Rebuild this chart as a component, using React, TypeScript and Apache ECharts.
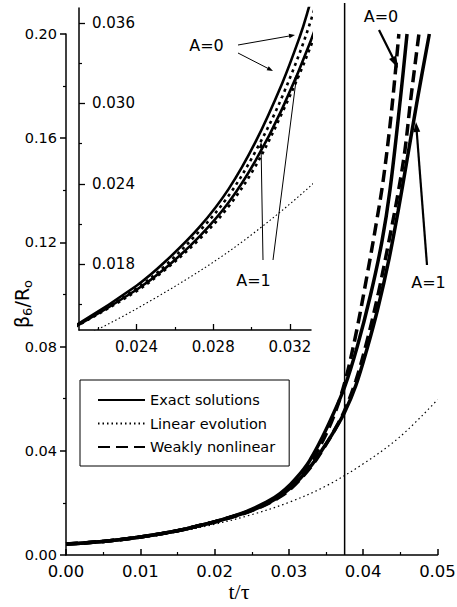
import React, { useEffect, useRef } from 'react';
import * as echarts from 'echarts';

// ---- data ----
const tExactA0 = [0, 0.005, 0.01, 0.015, 0.018, 0.021, 0.024, 0.0255, 0.0273, 0.0288, 0.0302, 0.0316, 0.0325, 0.0329, 0.034, 0.0355, 0.0375, 0.0392, 0.041, 0.0425, 0.0436, 0.045, 0.0459];
const betaExactA0 = [0.0042, 0.0052, 0.0069, 0.0093, 0.0113, 0.0136, 0.0164, 0.0182, 0.0208, 0.0236, 0.0271, 0.0315, 0.0349, 0.0367, 0.0424, 0.0512, 0.0645, 0.08, 0.1, 0.12, 0.14, 0.175, 0.2];

const tWeakA0 = [0, 0.005, 0.01, 0.015, 0.018, 0.021, 0.024, 0.0255, 0.0273, 0.0288, 0.0302, 0.0316, 0.0331, 0.0345, 0.036, 0.0375, 0.039, 0.0405, 0.0418, 0.0427, 0.0438, 0.0448];
const betaWeakA0 = [0.0042, 0.0052, 0.0069, 0.0093, 0.0113, 0.0135, 0.0162, 0.0179, 0.0205, 0.0231, 0.0264, 0.0305, 0.0362, 0.0435, 0.053, 0.066, 0.0845, 0.107, 0.128, 0.144, 0.17, 0.2];

const tExactA1 = [0, 0.005, 0.01, 0.015, 0.018, 0.021, 0.024, 0.0255, 0.0273, 0.0288, 0.0302, 0.0316, 0.0331, 0.0345, 0.036, 0.0375, 0.039, 0.0405, 0.042, 0.0435, 0.0447, 0.0458, 0.0473, 0.0489];
const betaExactA1 = [0.0042, 0.0052, 0.0069, 0.0093, 0.0113, 0.0135, 0.0161, 0.0177, 0.0201, 0.0226, 0.0257, 0.0296, 0.0347, 0.0405, 0.0472, 0.0548, 0.065, 0.079, 0.095, 0.114, 0.132, 0.15, 0.175, 0.2];

const tWeakA1 = [0, 0.005, 0.01, 0.015, 0.018, 0.021, 0.024, 0.0255, 0.0273, 0.0288, 0.0302, 0.0316, 0.0331, 0.0345, 0.036, 0.0375, 0.039, 0.0405, 0.042, 0.0435, 0.0447, 0.0456, 0.0464, 0.0475];
const betaWeakA1 = [0.0042, 0.0052, 0.0069, 0.0093, 0.0113, 0.0135, 0.016, 0.0176, 0.0199, 0.0223, 0.0253, 0.0293, 0.0343, 0.0402, 0.0472, 0.0555, 0.0668, 0.082, 0.1, 0.121, 0.139, 0.155, 0.175, 0.2];

const tLinear = [0, 0.005, 0.01, 0.015, 0.02, 0.025, 0.03, 0.035, 0.04, 0.045, 0.05];
const betaLinear = [0.0042, 0.0052, 0.0069, 0.009, 0.0118, 0.0155, 0.0202, 0.0265, 0.035, 0.0455, 0.0596];

const legendNames = ['Exact solutions', 'Linear evolution', 'Weakly nonlinear'];
const markerT = 0.0375;

const insetXMajor = [0.024, 0.028, 0.032];
const insetXMinor = [0.022, 0.026, 0.03];
const insetYMajor = [0.018, 0.024, 0.03, 0.036];
const insetYMinor = [0.015, 0.021, 0.027, 0.033];

const FONT = 'DejaVu Sans';

const zip = (t: number[], v: number[]) => t.map((x, i) => [x, v[i]]);

function arrow(x1: number, y1: number, x2: number, y2: number, w: number, hl: number, hw: number) {
  const dx = x2 - x1, dy = y2 - y1;
  const L = Math.sqrt(dx * dx + dy * dy);
  const ux = dx / L, uy = dy / L;
  const bx = x2 - ux * hl, by = y2 - uy * hl;
  const px = -uy, py = ux;
  return [
    { type: 'line', shape: { x1, y1, x2: x2 - ux * hl * 0.6, y2: y2 - uy * hl * 0.6 }, style: { stroke: '#000', lineWidth: w }, z: 100 },
    {
      type: 'polygon',
      shape: { points: [[x2, y2], [bx + px * hw, by + py * hw], [bx - px * hw, by - py * hw]] },
      style: { fill: '#000' },
      z: 100,
    },
  ];
}

export default function App() {
  const ref = useRef<HTMLDivElement>(null);
  useEffect(() => {
    if (!ref.current) return;
    const chart = echarts.init(ref.current, undefined, { renderer: 'svg' });

    const solidMain = { color: '#000', width: 3.5, type: 'solid' };
    const dashMain = { color: '#000', width: 3.5, type: [12, 6] };
    const dotMain = { color: '#000', width: 1.2, type: [1.5, 3] };
    const solidInset = { color: '#000', width: 2.6, type: 'solid' };
    const dashInset = { color: '#000', width: 2.6, type: [3, 4] };
    const dotInset = { color: '#000', width: 1.1, type: [1.5, 2.5] };

    const mk = (name: string, data: number[][], ls: any, idx: number) => ({
      type: 'line',
      name,
      data,
      xAxisIndex: idx,
      yAxisIndex: idx,
      showSymbol: false,
      symbol: 'none',
      smooth: 0.35,
      lineStyle: ls,
      itemStyle: { color: '#000' },
      silent: true,
      clip: true,
    });

    const axisLineStyle = { color: '#000', width: 1.5 };

    const option: any = {
      animation: false,
      backgroundColor: '#fff',
      grid: [
        { left: 66, right: 19.5, top: 34, bottom: 52, containLabel: false, outerBoundsMode: 'none' },
        { left: 79, top: 8, width: 232, height: 322, containLabel: false, outerBoundsMode: 'none' },
      ],
      legend: {
        data: legendNames,
        orient: 'vertical',
        left: 80,
        top: 380,
        padding: [12, 14, 11, 17],
        itemGap: 7.5,
        itemWidth: 47,
        itemHeight: 14,
        borderColor: '#000',
        borderWidth: 1,
        backgroundColor: '#fff',
        selectedMode: false,
        itemStyle: { opacity: 0, borderWidth: 0 },
        textStyle: { fontFamily: FONT, fontSize: 14.5, color: '#000', lineHeight: 16 },
      },
      xAxis: [
        {
          type: 'value', gridIndex: 0, min: 0, max: 0.05, interval: 0.01,
          axisLine: { lineStyle: axisLineStyle },
          axisTick: { inside: true, length: 6, lineStyle: { color: '#000', width: 1.5 } },
          minorTick: { show: true, splitNumber: 2, length: 3, lineStyle: { color: '#000', width: 1.2 } },
          splitLine: { show: false },
          axisLabel: { formatter: (v: number) => v.toFixed(2), fontFamily: FONT, fontSize: 16.5, color: '#000', margin: 8 },
        },
        {
          type: 'value', gridIndex: 1, position: 'bottom', min: 0.021, max: 0.0331,
          axisLine: { lineStyle: axisLineStyle },
          axisTick: { inside: true, length: 6, customValues: insetXMajor, lineStyle: { color: '#000', width: 1.3 } },
          splitLine: { show: false },
          axisLabel: { customValues: insetXMajor, formatter: (v: number) => v.toFixed(3), fontFamily: FONT, fontSize: 15, color: '#000', margin: 9 },
        },
        {
          type: 'value', gridIndex: 1, position: 'bottom', min: 0.021, max: 0.0331,
          axisLine: { show: false },
          axisTick: { inside: true, length: 3, customValues: insetXMinor, lineStyle: { color: '#000', width: 1.2 } },
          splitLine: { show: false },
          axisLabel: { show: false },
        },
      ],
      yAxis: [
        {
          type: 'value', gridIndex: 0, min: 0, max: 0.2, interval: 0.04,
          axisLine: { show: true, lineStyle: axisLineStyle },
          axisTick: { show: true, inside: false, length: 6, lineStyle: { color: '#000', width: 1.5 } },
          minorTick: { show: true, splitNumber: 2, length: 3, lineStyle: { color: '#000', width: 1.2 } },
          splitLine: { show: false },
          axisLabel: { formatter: (v: number) => v.toFixed(2), fontFamily: FONT, fontSize: 14.5, color: '#000', margin: 9 },
        },
        {
          type: 'value', gridIndex: 1, position: 'left', min: 0.0131, max: 0.0371,
          axisLine: { show: true, lineStyle: axisLineStyle },
          axisTick: { show: true, inside: true, length: 6, customValues: insetYMajor, lineStyle: { color: '#000', width: 1.3 } },
          splitLine: { show: false },
          axisLabel: { inside: true, customValues: insetYMajor, formatter: (v: number) => v.toFixed(3), fontFamily: FONT, fontSize: 15, color: '#000', margin: 13 },
        },
        {
          type: 'value', gridIndex: 1, position: 'left', min: 0.0131, max: 0.0371,
          axisLine: { show: false },
          axisTick: { show: true, inside: true, length: 3, customValues: insetYMinor, lineStyle: { color: '#000', width: 1.2 } },
          splitLine: { show: false },
          axisLabel: { show: false },
        },
      ],
      series: [
        mk(legendNames[0], zip(tExactA0, betaExactA0), solidMain, 0),
        mk(legendNames[1], zip(tLinear, betaLinear), dotMain, 0),
        mk(legendNames[2], zip(tWeakA0, betaWeakA0), dashMain, 0),
        mk(legendNames[0], zip(tExactA1, betaExactA1), solidMain, 0),
        mk(legendNames[2], zip(tWeakA1, betaWeakA1), dashMain, 0),
        mk(legendNames[0], zip(tExactA0, betaExactA0), solidInset, 1),
        mk(legendNames[1], zip(tLinear, betaLinear), dotInset, 1),
        mk(legendNames[2], zip(tWeakA0, betaWeakA0), dashInset, 1),
        mk(legendNames[0], zip(tExactA1, betaExactA1), solidInset, 1),
        mk(legendNames[2], zip(tWeakA1, betaWeakA1), dashInset, 1),
      ],
    };
    chart.setOption(option);

    const vx = chart.convertToPixel({ xAxisIndex: 0 }, markerT) as number;
    const vy0 = chart.convertToPixel({ yAxisIndex: 0 }, 0) as number;

    const txt = (text: string, x: number, y: number, size: number, extra: any = {}) => ({
      type: 'text', x, y, z: 100,
      style: { text, fontFamily: FONT, fontSize: size, fill: '#000', align: 'center', verticalAlign: 'middle', ...extra },
    });

    const graphics: any[] = [
      { type: 'line', shape: { x1: vx, y1: 3, x2: vx, y2: vy0 }, style: { stroke: '#000', lineWidth: 1.5 }, z: 50 },
      // y axis title
      {
        type: 'group', x: 22, y: 304, rotation: Math.PI / 2,
        children: [
          { type: 'text', x: -24, y: 0, style: { text: 'β', fontFamily: FONT, fontSize: 19, fill: '#000', align: 'left', verticalAlign: 'middle' } },
          { type: 'text', x: -12, y: 5, style: { text: '6', fontFamily: FONT, fontSize: 13, fill: '#000', align: 'left', verticalAlign: 'middle' } },
          { type: 'text', x: -3.5, y: 0, style: { text: '/R', fontFamily: FONT, fontSize: 19, fill: '#000', align: 'left', verticalAlign: 'middle' } },
          { type: 'text', x: 16, y: 5, style: { text: 'o', fontFamily: FONT, fontSize: 13, fill: '#000', align: 'left', verticalAlign: 'middle' } },
        ],
      },
      // x axis title
      txt('t/τ', 239, 591, 22, { fontFamily: 'Liberation Serif' }),
      // annotations
      txt('A=0', 206.5, 45, 16),
      txt('A=1', 253.5, 280, 16),
      txt('A=0', 381, 16.5, 16),
      txt('A=1', 428.5, 282.5, 16),
      ...arrow(238, 45, 295, 35, 1, 6, 2.2),
      ...arrow(238, 53, 273, 71, 1, 6, 2.2),
      ...arrow(263, 260, 261, 142, 1, 6, 2.2),
      ...arrow(273, 260, 297, 73, 1, 6, 2.2),
      ...arrow(379, 30, 398, 68, 2.2, 12, 4),
      ...arrow(427, 265, 416, 122, 2.2, 10, 3.5),
    ];
    chart.setOption({ graphic: { elements: graphics } });

    return () => chart.dispose();
  }, []);
  return <div ref={ref} style={{ width: 457, height: 607, position: 'absolute', left: 0, top: 0 }} />;
}
